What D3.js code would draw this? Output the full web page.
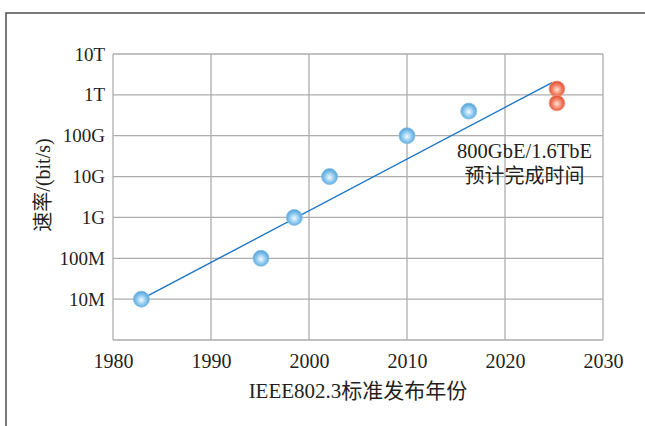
<!DOCTYPE html>
<html>
<head>
<meta charset="utf-8">
<script src="https://cdn.jsdelivr.net/npm/d3@7"></script>
<style>
  body { margin: 0; background: #fff; }
  text { font-family: "Liberation Serif", "Noto Sans CJK SC", serif; fill: #231f20; }
</style>
</head>
<body>
<div id="chart"></div>
<script>
// released standards (blue) and planned ones (red)
const releaseYears = [1982.9, 1995.1, 1998.5, 2002.1, 2010.0, 2016.3];
const releaseRates = [1e7, 1e8, 1e9, 1e10, 1e11, 4e11];
const plannedYears = [2025.3, 2025.3];
const plannedRates = [1.4e12, 6.3e11];
const trendYears = [1982.9, 2024.8];
const trendRates = [1e7, 2e12];
const xTicks = [1980, 1990, 2000, 2010, 2020, 2030];
const yTicks = [1e6, 1e7, 1e8, 1e9, 1e10, 1e11, 1e12, 1e13];
const yTickLabels = ['', '10M', '100M', '1G', '10G', '100G', '1T', '10T'];

const W = 645, H = 426;
const margin = { top: 54, left: 113, right: 42, bottom: 86 };
const width = W - margin.left - margin.right;
const height = H - margin.top - margin.bottom;
const serif = '"Liberation Serif", "Noto Sans CJK SC", serif';

const svg = d3.select('#chart').append('svg')
  .attr('width', W)
  .attr('height', H);

// outer frame, runs off the right and bottom of the picture
svg.append('rect')
  .attr('x', 6).attr('y', 13)
  .attr('width', 800).attr('height', 600)
  .attr('fill', 'none')
  .attr('stroke', '#4d4d4d')
  .attr('stroke-width', 1.5);

const defs = svg.append('defs');
function ball(id, inner, mid, outer) {
  const gr = defs.append('radialGradient').attr('id', id)
    .attr('cx', '50%').attr('cy', '55%').attr('r', '55%');
  gr.append('stop').attr('offset', '0%').attr('stop-color', inner);
  gr.append('stop').attr('offset', '55%').attr('stop-color', mid);
  gr.append('stop').attr('offset', '100%').attr('stop-color', outer);
}
ball('blueBall', '#f4faff', '#8cc8ee', '#4b9fd8');
ball('redBall', '#fde3d8', '#f28266', '#e0482c');

const g = svg.append('g')
  .attr('transform', `translate(${margin.left}, ${margin.top})`);

const x = d3.scaleLinear().domain([1980, 2030]).range([0, width]);
const y = d3.scaleLog().domain([1e6, 1e13]).range([height, 0]);

// grid
g.append('g').selectAll('line')
  .data(xTicks).enter().append('line')
  .attr('x1', d => x(d)).attr('x2', d => x(d))
  .attr('y1', 0).attr('y2', height)
  .attr('stroke', '#adadad').attr('stroke-width', 1.3);
g.append('g').selectAll('line')
  .data(yTicks).enter().append('line')
  .attr('x1', 0).attr('x2', width)
  .attr('y1', d => y(d)).attr('y2', d => y(d))
  .attr('stroke', '#adadad').attr('stroke-width', 1.3);

// axes (labels only)
const xAxis = g.append('g')
  .attr('transform', `translate(0, ${height})`)
  .call(d3.axisBottom(x).tickValues(xTicks).tickFormat(d3.format('d')).tickSize(0).tickPadding(14));
const yAxis = g.append('g')
  .call(d3.axisLeft(y).tickValues(yTicks).tickFormat((d, i) => yTickLabels[i]).tickSize(0).tickPadding(8));
xAxis.attr('font-family', serif).attr('font-size', 20);
yAxis.attr('font-family', serif).attr('font-size', 19);
[xAxis, yAxis].forEach(a => {
  a.select('.domain').remove();
  a.selectAll('text').attr('fill', '#231f20');
});

// trend line
const line = d3.line()
  .x(d => x(d[0]))
  .y(d => y(d[1]));
g.append('path')
  .datum(d3.zip(trendYears, trendRates))
  .attr('fill', 'none')
  .attr('stroke', '#1a75c4')
  .attr('stroke-width', 1.4)
  .attr('d', line);

// points
g.selectAll('circle.rel')
  .data(d3.zip(releaseYears, releaseRates))
  .enter().append('circle')
  .attr('class', 'rel')
  .attr('cx', d => x(d[0]))
  .attr('cy', d => y(d[1]))
  .attr('r', 8)
  .attr('fill', 'url(#blueBall)')
  .attr('stroke', '#86bfe6').attr('stroke-width', 0.8);

g.selectAll('circle.plan')
  .data(d3.zip(plannedYears, plannedRates))
  .enter().append('circle')
  .attr('class', 'plan')
  .attr('cx', d => x(d[0]))
  .attr('cy', d => y(d[1]))
  .attr('r', 7.8)
  .attr('fill', 'url(#redBall)')
  .attr('stroke', '#f0937e').attr('stroke-width', 0.8);

// annotation
const note = g.append('text')
  .attr('text-anchor', 'middle');
note.append('tspan')
  .attr('x', x(2022.0)).attr('y', y(1e11) + 22)
  .style('font-family', '"Liberation Serif", serif')
  .style('font-size', '20.5px')
  .text('800GbE/1.6TbE');
note.append('tspan')
  .attr('x', x(2022.0)).attr('y', y(1e11) + 47)
  .style('font-family', '"Noto Sans CJK SC", sans-serif')
  .style('font-size', '20px')
  .text('预计完成时间');

// axis titles
svg.append('text')
  .attr('x', 358).attr('y', 398)
  .attr('text-anchor', 'middle')
  .style('font-size', '21px')
  .text('IEEE802.3标准发布年份');

svg.append('text')
  .attr('transform', 'translate(50, 185) rotate(-90)')
  .attr('text-anchor', 'middle')
  .style('font-size', '20px')
  .text('速率/(bit/s)');
</script>
</body>
</html>
